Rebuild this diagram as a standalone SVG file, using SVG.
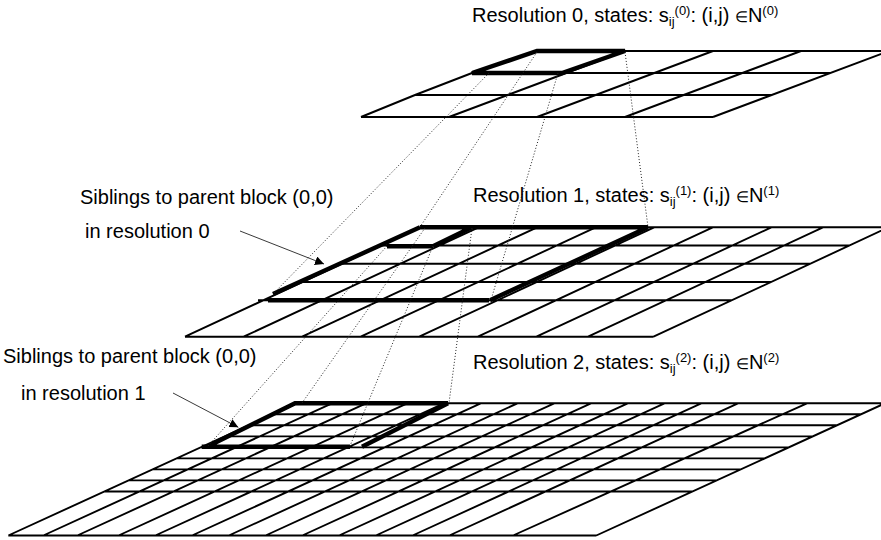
<svg xmlns="http://www.w3.org/2000/svg" width="881" height="540" viewBox="0 0 881 540">
<style>
.g{stroke:#000;stroke-width:1.9;fill:none}
.b{stroke:#000;stroke-width:4.4;fill:none;stroke-linejoin:miter}
.d{stroke:#222;stroke-width:1;stroke-dasharray:1 2;fill:none}
.a{stroke:#222;stroke-width:0.9;fill:none}
text{font-family:"Liberation Sans",Arial,sans-serif;font-size:20px;fill:#000}
.s{font-size:13px}
.in{font-size:15px}
</style>
<defs>
<marker id="ah" markerUnits="userSpaceOnUse" markerWidth="10" markerHeight="9" refX="9" refY="4.5" orient="auto">
<path d="M0,0 L9,4.5 L0,9 Z" fill="#000"/>
</marker>
</defs>
<rect width="881" height="540" fill="#fff"/>
<g id="grid-res0">
<path class="g" d="M537,51 H889 M472,73 H830 M415,95 H772 M361,117 H713 M537,51 L472,73 L415,95 L361,117 M625,51 L449,117 M713,51 L537,117 M801,51 L625,117 M889,51 L713,117"/>
<path class="b" d="M537,51 L625,51 L562,73 L472,73 Z"/>
</g>
<g id="grid-res1">
<path class="g" d="M420,227.3 H888.5 M380.9,245.5 H849.4 M341.7,263.8 H810.2 M302.6,282 H771.1 M258,300.2 H731.9 M185,336.7 H653.5 M420,227.3 L185,336.7 M478.6,227.3 L243.6,336.7 M537.1,227.3 L302.1,336.7 M595.7,227.3 L360.7,336.7 M654.2,227.3 L419.2,336.7 M712.8,227.3 L477.8,336.7 M771.4,227.3 L536.4,336.7 M823,227.3 L588,336.7 M888.5,227.3 L653.5,336.7"/>
<path class="b" d="M420,227.3 H648 M420,227.3 L273,294 M268,300.2 H489 M648,227.3 L490,300.2 M472,227.3 L433,246.3 M387,246.3 H433"/>
</g>
<g id="grid-res2">
<path class="g" d="M297,403.3 H885 M273,414.3 H861 M249,425.3 H837 M224.7,436.4 H812.7 M200.7,447.4 H788.7 M176.7,458.4 H764.7 M152.6,469.4 H740.6 M128.6,480.4 H716.6 M104.4,491.5 H692.4 M8.3,535.5 H596.3 M297,403.3 L8.3,535.5 M332,403.3 L43.3,535.5 M366,403.3 L77.3,535.5 M407.25,403.3 L118.55,535.5 M444,403.3 L155.3,535.5 M480.75,403.3 L192,535.5 M517.5,403.3 L228.8,535.5 M554.25,403.3 L265.55,535.5 M591,403.3 L302.3,535.5 M627.75,403.3 L339,535.5 M664.5,403.3 L375.8,535.5 M701.25,403.3 L412.55,535.5 M738,403.3 L449.3,535.5 M807,403.3 L513,535.5 M885,403.3 L596.3,535.5"/>
<path class="b" d="M448,403.3 L295,403.3 L207,446.7 M201.7,446.7 H350 M448,403.3 L362,446.7"/>
</g>
<g id="connectors">
<path class="d" d="M489,73 L273,294 M537,52 L420,227 M558,73 L491,300 M625,52 L648,227"/>
<path class="d" d="M387,246 L208,446 M425,228 L302,403 M433,246 L350,446 M472,228 L449,403"/>
<path class="a" d="M240,231 L324,264" marker-end="url(#ah)"/>
<path class="a" d="M173,393 L238.3,427.3" marker-end="url(#ah)"/>
</g>
<g id="labels">
<text id="label-res0" x="472" y="22">Resolution 0, states: s<tspan class="s" dy="4">ij</tspan><tspan class="s" dy="-11">(0)</tspan><tspan dy="7">: (i,j) </tspan><tspan class="in">∈</tspan>N<tspan class="s" dy="-7">(0)</tspan></text>
<text id="label-res1" x="473" y="202">Resolution 1, states: s<tspan class="s" dy="4">ij</tspan><tspan class="s" dy="-11">(1)</tspan><tspan dy="7">: (i,j) </tspan><tspan class="in">∈</tspan>N<tspan class="s" dy="-7">(1)</tspan></text>
<text id="label-res2" x="473" y="369">Resolution 2, states: s<tspan class="s" dy="4">ij</tspan><tspan class="s" dy="-11">(2)</tspan><tspan dy="7">: (i,j) </tspan><tspan class="in">∈</tspan>N<tspan class="s" dy="-7">(2)</tspan></text>
<text id="label-sib0a" x="80" y="204">Siblings to parent block (0,0)</text>
<text id="label-sib0b" x="85" y="238">in resolution 0</text>
<text id="label-sib1a" x="3" y="363">Siblings to parent block (0,0)</text>
<text id="label-sib1b" x="21" y="400">in resolution 1</text>
</g>
</svg>
